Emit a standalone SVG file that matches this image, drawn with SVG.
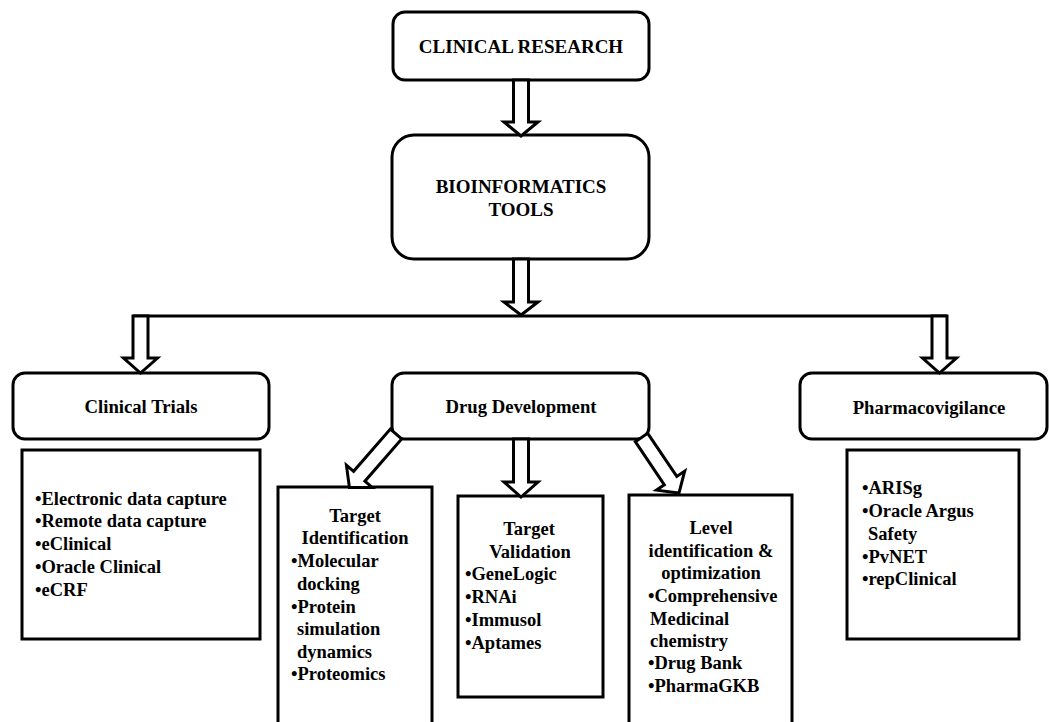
<svg xmlns="http://www.w3.org/2000/svg" width="1049" height="722" viewBox="0 0 1049 722">
  <style>
    .box { fill: #ffffff; stroke: #000000; stroke-width: 3; }
    .arrow { fill: #ffffff; stroke: #000000; stroke-width: 3; stroke-linejoin: miter; }
    .line { stroke: #000000; stroke-width: 3; fill: none; }
    text { font-family: "Liberation Serif", "Times New Roman", serif; font-weight: bold; fill: #000000; }
    .title { font-size: 19px; text-anchor: middle; }
    .label { font-size: 18.7px; text-anchor: middle; }
    .item { font-size: 18.5px; }
    .head { font-size: 18.5px; text-anchor: middle; }
  </style>
  <rect width="1049" height="722" fill="#ffffff"/>

  <g id="clinical-research">
    <rect class="box" x="393" y="12" width="256" height="68" rx="12"/>
    <text class="title" x="521" y="53">CLINICAL RESEARCH</text>
  </g>

  <g id="bioinformatics-tools">
    <rect class="box" x="392" y="135" width="257" height="124" rx="22"/>
    <text class="title" x="521" y="193">BIOINFORMATICS</text>
    <text class="title" x="521" y="216">TOOLS</text>
  </g>

  <g id="clinical-trials">
    <rect class="box" x="13" y="373" width="256" height="66" rx="12"/>
    <text class="label" x="141" y="413">Clinical Trials</text>
  </g>

  <g id="drug-development">
    <rect class="box" x="392" y="373" width="257" height="66" rx="12"/>
    <text class="label" x="521" y="413">Drug Development</text>
  </g>

  <g id="pharmacovigilance">
    <rect class="box" x="800" y="373" width="247" height="66" rx="12"/>
    <text class="label" x="929" y="414">Pharmacovigilance</text>
  </g>

  <g id="clinical-trials-tools">
    <rect class="box" x="22" y="450" width="238" height="189"/>
    <text class="item" x="35" y="505">•Electronic data capture</text>
    <text class="item" x="35" y="527">•Remote data capture</text>
    <text class="item" x="35" y="550">•eClinical</text>
    <text class="item" x="35" y="573">•Oracle Clinical</text>
    <text class="item" x="35" y="596">•eCRF</text>
  </g>

  <g id="target-identification">
    <rect class="box" x="278" y="487" width="154" height="250"/>
    <text class="head" x="355" y="522">Target</text>
    <text class="head" x="355" y="544">Identification</text>
    <text class="item" x="291" y="567">•Molecular</text>
    <text class="item" x="297" y="590">docking</text>
    <text class="item" x="291" y="613">•Protein</text>
    <text class="item" x="297" y="635">simulation</text>
    <text class="item" x="297" y="658">dynamics</text>
    <text class="item" x="291" y="680">•Proteomics</text>
  </g>

  <g id="target-validation">
    <rect class="box" x="458" y="496" width="145" height="201"/>
    <text class="head" x="529" y="535">Target</text>
    <text class="head" x="530" y="558">Validation</text>
    <text class="item" x="465" y="580">•GeneLogic</text>
    <text class="item" x="465" y="603">•RNAi</text>
    <text class="item" x="465" y="626">•Immusol</text>
    <text class="item" x="465" y="649">•Aptames</text>
  </g>

  <g id="lead-optimization">
    <rect class="box" x="629" y="495" width="163" height="240"/>
    <text class="head" x="711" y="534">Level</text>
    <text class="head" x="711" y="557">identification &amp;</text>
    <text class="head" x="711" y="579">optimization</text>
    <text class="item" x="648" y="602">•Comprehensive</text>
    <text class="item" x="650" y="625">Medicinal</text>
    <text class="item" x="650" y="647">chemistry</text>
    <text class="item" x="648" y="669">•Drug Bank</text>
    <text class="item" x="648" y="692">•PharmaGKB</text>
  </g>

  <g id="pharmacovigilance-tools">
    <rect class="box" x="847" y="450" width="172" height="189"/>
    <text class="item" x="862" y="494">•ARISg</text>
    <text class="item" x="862" y="517">•Oracle Argus</text>
    <text class="item" x="868" y="540">Safety</text>
    <text class="item" x="862" y="563">•PvNET</text>
    <text class="item" x="862" y="585">•repClinical</text>
  </g>

  <g id="connectors">
    <!-- clinical research to bioinformatics tools -->
    <polygon class="arrow" points="513.5,80 528.5,80 528.5,122 538,122 521,136 504,122 513.5,122"/>
    <!-- bioinformatics tools to the branch bar -->
    <polygon class="arrow" points="513.5,259 528.5,259 528.5,302 538,302 521,315 504,302 513.5,302"/>
    <!-- branch bar -->
    <line class="line" x1="133" y1="316" x2="947" y2="316"/>
    <!-- branch to clinical trials -->
    <polygon class="arrow" points="133,316 148,316 148,358 157.5,358 140.5,373 123.5,358 133,358"/>
    <!-- branch to pharmacovigilance -->
    <polygon class="arrow" points="932,316 947,316 947,358 956.5,358 939.5,373 922.5,358 932,358"/>
    <!-- drug development to its three stages -->
    <polygon class="arrow" points="513.5,439 528.5,439 528.5,482 538,482 521,497 504,482 513.5,482"/>
    <polygon class="arrow" transform="translate(396,434) rotate(41)" points="-7.5,0 7.5,0 7.5,56 17,56 0,71 -17,56 -7.5,56"/>
    <polygon class="arrow" transform="translate(641.5,437.5) rotate(-34)" points="-7.5,0 7.5,0 7.5,52 17,52 0,67 -17,52 -7.5,52"/>
  </g>
</svg>
